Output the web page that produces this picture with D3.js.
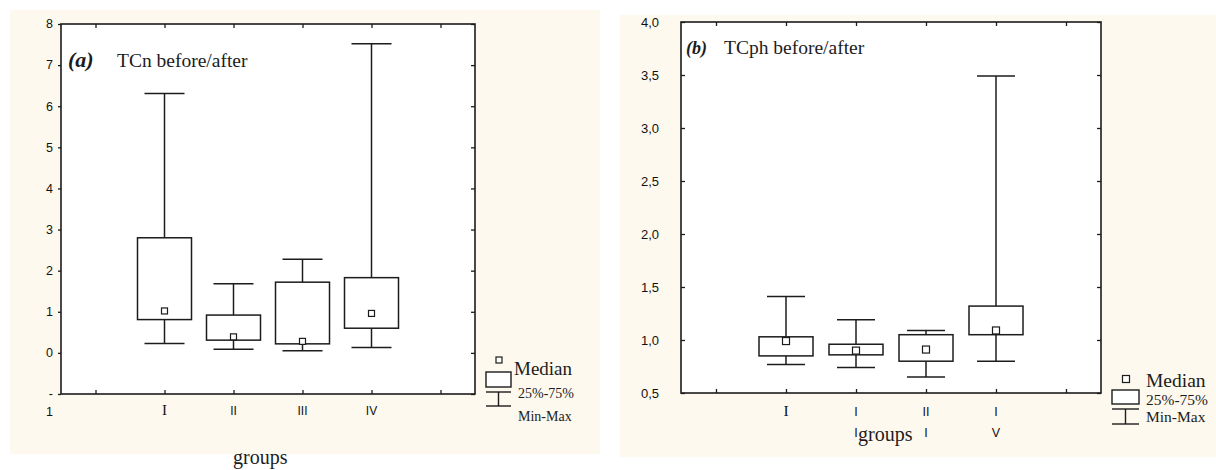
<!DOCTYPE html>
<html>

<head>
  <meta charset="utf-8">
  <script src="https://d3js.org/d3.v7.min.js"></script>
  <style>
    html,
    body {
      margin: 0;
      padding: 0;
      background: #fff;
    }
  </style>
</head>

<body>
  <div id="chart"></div>

  <script>
    // categories (groups) and their position on the x scale
    var categories = ["I", "II", "III", "IV"];
    var catPos = [1, 2, 3, 4];
    var xTicks = [0, 1, 2, 3, 4, 5];

    // panel (a) TCn before/after
    var minA = [0.23, 0.09, 0.05, 0.13];
    var q1A = [0.81, 0.31, 0.22, 0.60];
    var medA = [1.02, 0.39, 0.28, 0.96];
    var q3A = [2.80, 0.92, 1.72, 1.83];
    var maxA = [6.31, 1.68, 2.28, 7.52];
    var yTicksA = [-1, 0, 1, 2, 3, 4, 5, 6, 7, 8];
    var yTickLabelsA = [["-", "1"], ["0"], ["1"], ["2"], ["3"], ["4"], ["5"], ["6"], ["7"], ["8"]];
    var xTickLabelsA = [["I"], ["II"], ["III"], ["IV"]];

    // panel (b) TCph before/after
    var minB = [0.77, 0.74, 0.65, 0.80];
    var q1B = [0.85, 0.86, 0.80, 1.05];
    var medB = [0.99, 0.90, 0.91, 1.09];
    var q3B = [1.03, 0.96, 1.05, 1.32];
    var maxB = [1.41, 1.19, 1.09, 3.49];
    var yTicksB = [0.5, 1.0, 1.5, 2.0, 2.5, 3.0, 3.5, 4.0];
    var yTickLabelsB = [["0,5"], ["1,0"], ["1,5"], ["2,0"], ["2,5"], ["3,0"], ["3,5"], ["4,0"]];
    var xTickLabelsB = [["I"], ["I", "I"], ["II", "I"], ["I", "V"]];

    var legendLabels = ["Median", "25%-75%", "Min-Max"];

    var SERIF = "'Liberation Serif', 'Times New Roman', serif";
    var SANS = "'Liberation Sans', Arial, sans-serif";
    var INK = "#1c1c1c";

    var svg = d3.select("#chart")
      .append("svg")
      .attr("width", 1216)
      .attr("height", 470);

    function drawPanel(p) {
      var g = svg.append("g");

      // cream background
      g.append("rect")
        .attr("x", p.bg[0]).attr("y", p.bg[1])
        .attr("width", p.bg[2]).attr("height", p.bg[3])
        .attr("fill", "#fef9ee");

      var x = d3.scaleLinear().domain([-0.5, 5.5]).range([p.left, p.right]);
      var y = d3.scaleLinear().domain(p.yDomain).range([p.bottom, p.top]);

      // plot area
      g.append("rect")
        .attr("x", p.left).attr("y", p.top)
        .attr("width", p.right - p.left).attr("height", p.bottom - p.top)
        .attr("fill", "white");

      var rows = categories.map(function (c, i) {
        return { pos: catPos[i], min: p.min[i], q1: p.q1[i], med: p.med[i], q3: p.q3[i], max: p.max[i] };
      });

      var box = g.selectAll(".box").data(rows).enter().append("g")
        .attr("stroke", INK).attr("stroke-width", 1.5);

      // whiskers
      box.append("line")
        .attr("x1", d => x(d.pos)).attr("x2", d => x(d.pos))
        .attr("y1", d => y(d.max)).attr("y2", d => y(d.q3));
      box.append("line")
        .attr("x1", d => x(d.pos)).attr("x2", d => x(d.pos))
        .attr("y1", d => y(d.q1)).attr("y2", d => y(d.min));
      // caps
      box.append("line")
        .attr("x1", d => x(d.pos) - p.capW / 2).attr("x2", d => x(d.pos) + p.capW / 2)
        .attr("y1", d => y(d.max)).attr("y2", d => y(d.max));
      box.append("line")
        .attr("x1", d => x(d.pos) - p.capW / 2).attr("x2", d => x(d.pos) + p.capW / 2)
        .attr("y1", d => y(d.min)).attr("y2", d => y(d.min));
      // 25%-75% box
      box.append("rect")
        .attr("x", d => x(d.pos) - p.boxW / 2)
        .attr("y", d => y(d.q3))
        .attr("width", p.boxW)
        .attr("height", d => y(d.q1) - y(d.q3))
        .attr("fill", "white");
      // median square
      box.append("rect")
        .attr("x", d => x(d.pos) - p.medS / 2)
        .attr("y", d => y(d.med) - p.medS / 2)
        .attr("width", p.medS).attr("height", p.medS)
        .attr("fill", "white").attr("stroke-width", 1.2);

      // ticks on all four sides
      var axes = [
        { axis: d3.axisLeft(y).tickValues(p.yTicks).tickSize(p.leftTick), t: "translate(" + p.left + ",0)" },
        { axis: d3.axisRight(y).tickValues(p.yTicks).tickSize(-4), t: "translate(" + p.right + ",0)" },
        { axis: d3.axisTop(x).tickValues(xTicks).tickSize(-4), t: "translate(0," + p.top + ")" },
        { axis: d3.axisBottom(x).tickValues(xTicks).tickSize(-4), t: "translate(0," + p.bottom + ")" }
      ];
      axes.forEach(function (a) {
        var ag = g.append("g").attr("transform", a.t).call(a.axis.tickFormat(""));
        ag.select(".domain").remove();
        ag.selectAll("line").attr("stroke", INK).attr("stroke-width", 1.3);
      });

      // frame
      g.append("rect")
        .attr("x", p.left).attr("y", p.top)
        .attr("width", p.right - p.left).attr("height", p.bottom - p.top)
        .attr("fill", "none").attr("stroke", INK).attr("stroke-width", 1.6);

      // y tick labels
      g.selectAll(".ylab").data(p.yTicks).enter().append("text")
        .attr("x", p.yLabelX)
        .attr("y", d => y(d))
        .attr("text-anchor", "end")
        .attr("font-family", SANS)
        .attr("font-size", p.yFont)
        .attr("fill", "#111")
        .each(function (d, i) {
          var t = d3.select(this);
          p.yLabels[i].forEach(function (line, k) {
            t.append("tspan").attr("x", p.yLabelX)
              .attr("dy", k === 0 ? "0.35em" : p.yLineGap)
              .text(line);
          });
        });

      // x tick labels
      g.selectAll(".xlab").data(rows).enter().append("text")
        .attr("x", d => x(d.pos))
        .attr("y", p.xLabelY)
        .attr("text-anchor", "middle")
        .attr("font-family", (d, i) => i === 0 ? SERIF : SANS)
        .attr("font-size", (d, i) => i === 0 ? p.xFont + 3 : p.xFont)
        .attr("fill", "#111")
        .each(function (d, i) {
          var t = d3.select(this);
          p.xLabels[i].forEach(function (line, k) {
            t.append("tspan").attr("x", x(d.pos))
              .attr("dy", k === 0 ? 0 : p.xLineGap)
              .text(line);
          });
        });

      // x axis title
      g.append("text")
        .attr("x", p.groups[0]).attr("y", p.groups[1])
        .attr("font-family", SERIF).attr("font-size", 20)
        .attr("fill", INK)
        .text("groups");

      // panel title
      var title = g.append("text")
        .attr("x", p.title[0]).attr("y", p.title[1])
        .attr("font-family", SERIF)
        .attr("fill", INK);
      title.append("tspan")
        .attr("font-weight", "bold").attr("font-style", "italic")
        .attr("font-size", p.title[2])
        .text(p.tag);
      title.append("tspan")
        .attr("x", p.title[3])
        .attr("font-size", 19.5)
        .text(p.name);

      // legend
      var L = p.legend;
      var lg = g.append("g").attr("stroke", INK).attr("stroke-width", 1.4);
      lg.append("rect")
        .attr("x", L.medX - p.medS / 2).attr("y", L.medY - p.medS / 2)
        .attr("width", p.medS).attr("height", p.medS)
        .attr("fill", "white").attr("stroke-width", 1.2);
      lg.append("rect")
        .attr("x", L.x0).attr("y", L.boxY0)
        .attr("width", L.x1 - L.x0).attr("height", L.boxY1 - L.boxY0)
        .attr("fill", "white");
      var cx = (L.x0 + L.x1) / 2;
      lg.append("line").attr("x1", L.x0).attr("x2", L.x1).attr("y1", L.capY0).attr("y2", L.capY0);
      lg.append("line").attr("x1", L.x0).attr("x2", L.x1).attr("y1", L.capY1).attr("y2", L.capY1);
      lg.append("line").attr("x1", cx).attr("x2", cx).attr("y1", L.capY0).attr("y2", L.capY1);

      legendLabels.forEach(function (s, i) {
        g.append("text")
          .attr("x", L.textX[i]).attr("y", L.textY[i])
          .attr("font-family", SERIF)
          .attr("font-size", L.textSize[i])
          .attr("fill", INK)
          .text(s);
      });
    }

    drawPanel({
      bg: [10, 10, 590, 444],
      left: 61, right: 475, top: 24, bottom: 394,
      yDomain: [-1, 8],
      yTicks: yTicksA, yLabels: yTickLabelsA,
      yLabelX: 53, yFont: 12.5, yLineGap: 18, leftTick: 3,
      xLabels: xTickLabelsA, xLabelY: 415, xFont: 12, xLineGap: 22,
      min: minA, q1: q1A, med: medA, q3: q3A, max: maxA,
      boxW: 54, capW: 40, medS: 6,
      groups: [233, 464],
      tag: "(a)", name: "TCn before/after", title: [68, 67, 22, 117],
      legend: {
        medX: 499, medY: 360,
        x0: 486, x1: 511, boxY0: 372, boxY1: 387, capY0: 392, capY1: 406,
        textX: [514, 518, 518], textY: [375, 398, 421], textSize: [19, 14, 14]
      }
    });

    drawPanel({
      bg: [620, 15, 596, 442],
      left: 681, right: 1101, top: 22, bottom: 393,
      yDomain: [0.5, 4.0],
      yTicks: yTicksB, yLabels: yTickLabelsB,
      yLabelX: 659, yFont: 13, yLineGap: 18, leftTick: -4,
      xLabels: xTickLabelsB, xLabelY: 416, xFont: 12.5, xLineGap: 21,
      min: minB, q1: q1B, med: medB, q3: q3B, max: maxB,
      boxW: 54, capW: 38, medS: 7,
      groups: [858, 441],
      tag: "(b)", name: "TCph before/after", title: [686, 54, 18, 724],
      legend: {
        medX: 1126, medY: 379,
        x0: 1112, x1: 1139, boxY0: 390, boxY1: 404, capY0: 409, capY1: 424,
        textX: [1146, 1146, 1146], textY: [387, 405, 422], textSize: [19.5, 15.5, 15.5]
      }
    });
  </script>
</body>

</html>
